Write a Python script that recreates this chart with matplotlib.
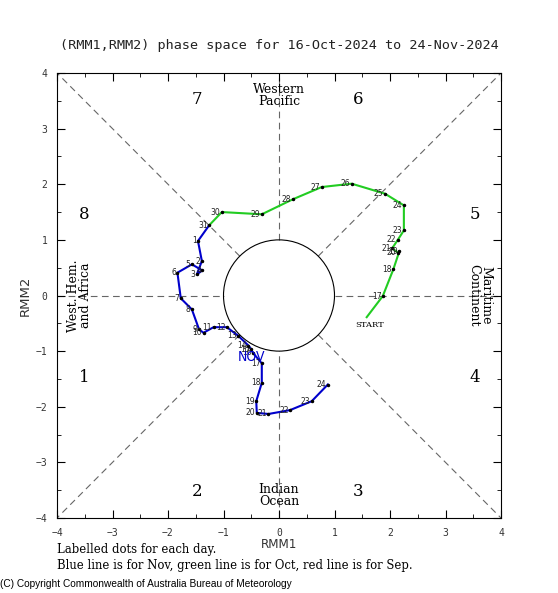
import numpy as np
import matplotlib
matplotlib.use("Agg")
import matplotlib.pyplot as plt
from matplotlib.patches import Circle

# Oct 16 - Oct 31 (green)
oct_days = list(range(16, 32))
oct_rmm1 = [1.58, 1.87, 2.06, 2.17, 2.14, 2.04, 2.14, 2.25, 2.25, 1.91, 1.31, 0.77, 0.25, -0.31, -1.03, -1.26]
oct_rmm2 = [-0.39, -0.01, 0.47, 0.80, 0.77, 0.85, 1.00, 1.17, 1.62, 1.83, 2.01, 1.95, 1.73, 1.46, 1.50, 1.26]

# Nov 1 - Nov 24 (blue)
nov_days = list(range(1, 25))
nov_rmm1 = [-1.46, -1.39, -1.48, -1.38, -1.57, -1.83, -1.77, -1.57, -1.44, -1.36, -1.18, -0.94,
            -0.74, -0.55, -0.50, -0.47, -0.31, -0.31, -0.41, -0.40, -0.19, 0.20, 0.59, 0.88]
nov_rmm2 = [0.98, 0.62, 0.38, 0.45, 0.56, 0.41, -0.05, -0.25, -0.61, -0.67, -0.57, -0.57,
            -0.72, -0.90, -0.97, -1.03, -1.22, -1.57, -1.90, -2.11, -2.13, -2.06, -1.90, -1.60]

phase_labels = ["1", "2", "3", "4", "5", "6", "7", "8"]
phase_x = [-3.51, -1.48, 1.42, 3.53, 3.53, 1.42, -1.48, -3.51]
phase_y = [-1.47, -3.53, -3.53, -1.47, 1.46, 3.53, 3.53, 1.46]

ticks = [-4, -3, -2, -1, 0, 1, 2, 3, 4]

fig = plt.figure(figsize=(5.58, 5.93), dpi=100)
ax = fig.add_axes([57 / 558, 75 / 593, 444 / 558, 445 / 593])
ax.set_xlim(-4, 4)
ax.set_ylim(-4, 4)

# background guide lines
dash = dict(color="#666666", lw=0.8, ls=(0, (6, 4)), zorder=1)
r = np.sqrt(0.5)
ax.plot([-4, -1], [0, 0], **dash)
ax.plot([1, 4], [0, 0], **dash)
ax.plot([0, 0], [1, 4], **dash)
ax.plot([0, 0], [-4, -1], **dash)
for sx, sy in [(1, 1), (-1, 1), (1, -1), (-1, -1)]:
    ax.plot([sx * r, sx * 4], [sy * r, sy * 4], **dash)
ax.add_patch(Circle((0, 0), 1, fill=False, ec="black", lw=0.8, zorder=1))

# tracks
ax.plot(oct_rmm1, oct_rmm2, color="#22cc22", lw=1.5, zorder=3)
ax.plot([oct_rmm1[-1]] + nov_rmm1, [oct_rmm2[-1]] + nov_rmm2, color="#0000cc", lw=1.5, zorder=3)
ax.plot(oct_rmm1[1:] + nov_rmm1, oct_rmm2[1:] + nov_rmm2, "o", ms=1.5, color="black", zorder=4)

for d, x, y in zip(oct_days[1:], oct_rmm1[1:], oct_rmm2[1:]):
    ax.annotate(str(d), (x, y), xytext=(-1, 0), textcoords="offset points",
                ha="right", va="center", fontsize=5.5, color="#222222", zorder=5)
for d, x, y in zip(nov_days, nov_rmm1, nov_rmm2):
    ax.annotate(str(d), (x, y), xytext=(-1, 0), textcoords="offset points",
                ha="right", va="center", fontsize=5.5, color="#222222", zorder=5)
ax.annotate("START", (oct_rmm1[0], oct_rmm2[0]), xytext=(2, -3), textcoords="offset points",
            ha="center", va="top", fontsize=6, family="DejaVu Serif", zorder=5)
ax.text(-0.5, -1.1, "NOV", color="#0000cc", fontsize=10, ha="center", va="center",
        family="DejaVu Sans", stretch="condensed", zorder=5)

# phase numbers and regions
for lab, x, y in zip(phase_labels, phase_x, phase_y):
    ax.text(x, y, lab, fontsize=12, family="DejaVu Serif", ha="center", va="center")
serif = dict(family="DejaVu Serif", fontsize=9, ha="center", va="center", linespacing=0.9)
ax.text(0, 3.6, "Western\nPacific", **serif)
ax.text(0, -3.6, "Indian\nOcean", **serif)
ax.text(-3.6, 0, "West. Hem.\nand Africa", rotation=90, **serif)
ax.text(3.62, 0, "Maritime\nContinent", rotation=270, **serif)

# axes styling
ax.set_xticks(ticks)
ax.set_yticks(ticks)
ax.set_xticks(np.arange(-3.5, 4, 1), minor=True)
ax.set_yticks(np.arange(-3.5, 4, 1), minor=True)
ax.tick_params(which="both", direction="in", top=True, right=True, labelsize=7, pad=7,
               labelcolor="#333333")
ax.tick_params(which="major", length=6)
ax.tick_params(which="minor", length=3)
for lbl in ax.get_xticklabels() + ax.get_yticklabels():
    lbl.set_family("DejaVu Sans Mono")
ax.set_xlabel("RMM1", fontsize=9.5, labelpad=0, color="#333333", stretch="condensed")
ax.set_ylabel("RMM2", fontsize=9.5, labelpad=3, color="#333333")

fig.text(279 / 558, 1 - 46 / 593, "(RMM1,RMM2) phase space for 16-Oct-2024 to 24-Nov-2024",
         ha="center", va="center", fontsize=9.7, family="DejaVu Sans Mono", color="#222222")
fig.text(57 / 558, 1 - 550 / 593, "Labelled dots for each day.",
         ha="left", va="center", fontsize=8.4, family="DejaVu Serif")
fig.text(57 / 558, 1 - 565 / 593, "Blue line is for Nov, green line is for Oct, red line is for Sep.",
         ha="left", va="center", fontsize=8.4, family="DejaVu Serif")
fig.text(0.0, 1 - 584 / 593, "(C) Copyright Commonwealth of Australia Bureau of Meteorology",
         ha="left", va="center", fontsize=7.3, family="Liberation Sans")

fig.savefig("out.png", dpi=100)
